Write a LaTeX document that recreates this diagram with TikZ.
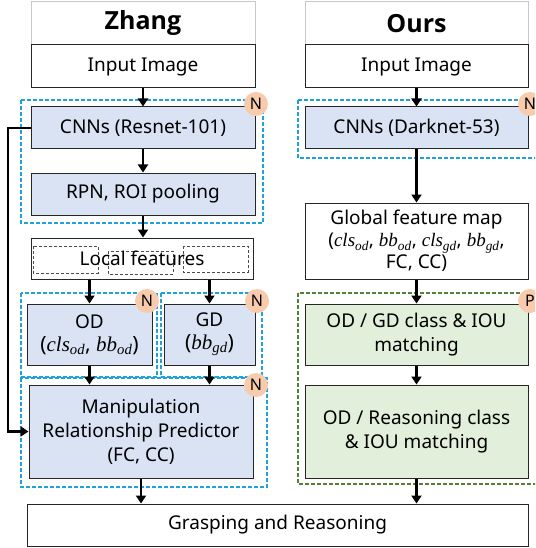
\documentclass[tikz,border=0pt]{standalone}
\usepackage{fontspec}
\setmainfont{Noto Sans}
\newfontfamily\hdrfont{Open Sans}
\newfontfamily\mathfnt{Liberation Serif}
\newcommand\sv[2]{{\mathfnt\itshape #1}\textsubscript{\mathfnt\itshape #2}}
\usetikzlibrary{arrows.meta}
\definecolor{bfill}{HTML}{DAE3F3}
\definecolor{gfill}{HTML}{E2EFDA}
\definecolor{bdash}{HTML}{1FA2DB}
\definecolor{gdash}{HTML}{548235}
\definecolor{nfill}{HTML}{F8CBAD}
\definecolor{hdr}{HTML}{C8C8C8}
\tikzset{
  box/.style={draw=black!85, line width=1pt, minimum width=224pt, align=center, inner sep=0pt, font=\fontsize{19}{24}\selectfont},
  bbox/.style={box, fill=bfill},
  gbox/.style={box, fill=gfill},
  hbox/.style={box, draw=hdr, font=\fontsize{25}{28}\selectfont\hdrfont\bfseries},
  bdashed/.style={draw=bdash, line width=1.3pt, dash pattern=on 4pt off 2pt},
  gdashed/.style={draw=gdash, line width=1.3pt, dash pattern=on 4pt off 2pt},
  ldashed/.style={draw=black!70, line width=0.8pt, dash pattern=on 3pt off 2pt},
  badge/.style={circle, fill=nfill, minimum size=24pt, inner sep=0pt, font=\fontsize{16}{16}\selectfont},
  arr/.style={line width=2.8pt, -{Triangle[length=8pt,width=10pt]}},
}
\begin{document}
\begin{tikzpicture}[x=1pt,y=-1pt]
\useasboundingbox (0,0) rectangle (535,548);
\clip (0,0) rectangle (535,548);
% left column
\node[hbox, minimum height=43pt] (zh) at (143,23.5) {Zhang};
\node[box, minimum height=43pt] (in1) at (143,66.5) {Input Image};
\node[bbox, minimum height=42pt] (cnn1) at (143,128) {CNNs (Resnet-101)};
\node[bbox, minimum height=42pt] (rpn) at (143,194) {RPN, ROI pooling};
\node[box, minimum width=222pt, minimum height=41pt] (loc) at (142,258.5) {};
\draw[ldashed] (33,246) rectangle (98,273);
\draw[ldashed] (108,251) rectangle (173,274);
\draw[ldashed] (183,246) rectangle (248,272);
\node[font=\fontsize{19}{24}\selectfont] (loct) at (142,258.5) {Local features};
\node[bbox, minimum width=125pt, minimum height=61pt] (od) at (89.5,334.5) {OD\\[-1pt]{\fontsize{21}{24}\selectfont(\sv{cls}{od}, \sv{bb}{od})}};
\node[bbox, minimum width=91pt, minimum height=61pt] (gd) at (209.5,334.5) {GD\\[-1pt]{\fontsize{21}{24}\selectfont(\sv{bb}{gd})}};
\node[bbox, minimum height=93pt] (mrp) at (141,431.5) {Manipulation\\Relationship Predictor\\(FC, CC)};
\node[box, minimum width=501pt, minimum height=42pt] (gr) at (277.5,525) {Grasping and Reasoning};
% right column
\node[hbox, minimum width=223pt, minimum height=43pt] (ours) at (416.5,23.5) {Ours};
\node[box, minimum width=223pt, minimum height=43pt] (in2) at (416.5,66.5) {Input Image};
\node[bbox, minimum width=223pt, minimum height=42pt] (cnn2) at (416.5,128) {CNNs (Darknet-53)};
\node[box, minimum width=223pt, minimum height=76pt] (gfm) at (416.5,241) {Global feature map\\[-2pt]{\fontsize{19}{22}\selectfont(\sv{cls}{od}, \sv{bb}{od}, \sv{cls}{gd}, \sv{bb}{gd},}\\[-2pt]FC, CC)};
\node[gbox, minimum width=223pt, minimum height=61pt] (odgd) at (416.5,334.5) {OD / GD class \& IOU\\matching};
\node[gbox, minimum width=223pt, minimum height=93pt] (odr) at (416.5,431.5) {OD / Reasoning class\\\& IOU matching};
% dashed groups
\draw[bdashed] (21,100) rectangle (263,223);
\draw[bdashed] (21,293) rectangle (157,377);
\draw[bdashed] (161,293) rectangle (262,377);
\draw[bdashed] (21,378) rectangle (267,487);
\draw[bdashed] (298,100) rectangle (545,158);
\draw[gdashed] (298,293) rectangle (545,484);
% badges
\node[badge] (n1) at (256,104) {N};
\node[badge] (n2) at (147,301) {N};
\node[badge] (n3) at (257,301) {N};
\node[badge] (n4) at (256,385) {N};
\node[badge] (n5) at (530,104) {N};
\node[badge] (p1) at (530,301) {P};
% arrows left
\draw[arr] (in1.south) -- (cnn1.north);
\draw[arr] (cnn1.south) -- (rpn.north);
\draw[arr] (rpn.south) -- (rpn.south |- loc.north);
\draw[arr] (od.north |- loc.south) -- (od.north);
\draw[arr] (gd.north |- loc.south) -- (gd.north);
\draw[arr] (od.south) -- (od.south |- mrp.north);
\draw[arr] (gd.south) -- (gd.south |- mrp.north);
\draw[arr] (mrp.south) -- (mrp.south |- gr.north);
\coordinate (fb1) at (8,128);
\coordinate (fb2) at (8,431.5);
\draw[arr] (cnn1.west) -- (fb1) -- (fb2) -- (mrp.west);
% arrows right
\draw[arr] (in2.south) -- (cnn2.north);
\draw[arr] (cnn2.south) -- (gfm.north);
\draw[arr] (gfm.south) -- (odgd.north);
\draw[arr] (odgd.south) -- (odr.north);
\draw[arr] (odr.south) -- (odr.south |- gr.north);
\end{tikzpicture}
\end{document}
